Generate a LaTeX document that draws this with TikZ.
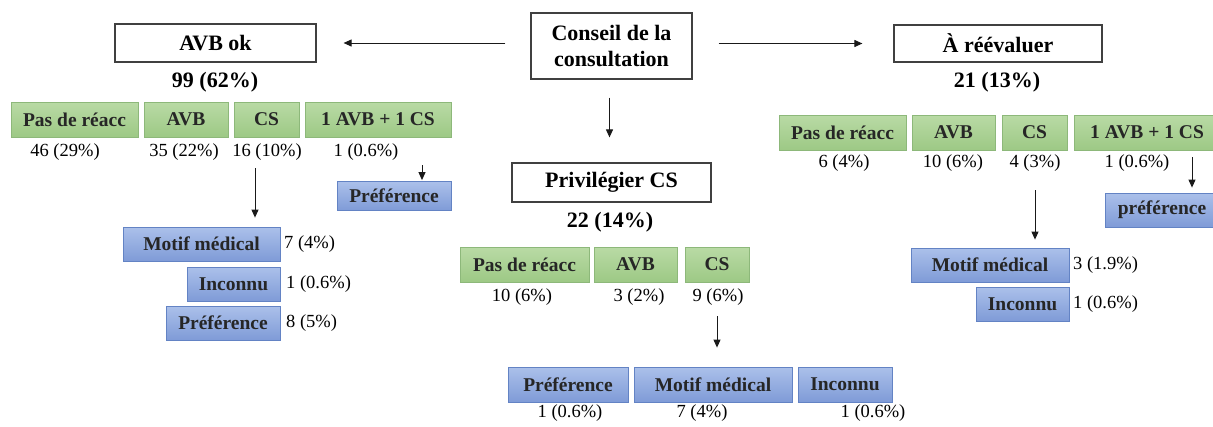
\documentclass[tikz,border=0pt]{standalone}
\usepackage{fontspec}
\setmainfont{Liberation Serif}
\usetikzlibrary{arrows.meta}
\definecolor{gtop}{HTML}{B9DAA5}
\definecolor{gbot}{HTML}{9DC985}
\definecolor{gline}{HTML}{8DB87A}
\definecolor{btop}{HTML}{ABC0EA}
\definecolor{bbot}{HTML}{7F9BD7}
\definecolor{bline}{HTML}{6383C4}
\definecolor{hline}{HTML}{404040}
\tikzset{
  headbox/.style={draw=hline, line width=1.2pt, fill=white, inner sep=0pt, align=center,
    font=\fontsize{22}{26}\selectfont\bfseries},
  total/.style={inner sep=0pt, font=\fontsize{22}{26}\selectfont\bfseries},
  greenbox/.style={draw=gline, line width=0.8pt, top color=gtop, bottom color=gbot, inner sep=0pt,
    minimum height=35pt, font=\fontsize{19.5}{22}\selectfont\bfseries, text=black!85},
  bluebox/.style={draw=bline, line width=0.8pt, top color=btop, bottom color=bbot, inner sep=0pt,
    minimum height=34pt, font=\fontsize{19.5}{22}\selectfont\bfseries, text=black!85},
  num/.style={inner sep=0pt, text height=13pt, text depth=4pt, font=\fontsize{18.5}{21}\selectfont},
  arr/.style={draw=black!90, line width=1pt, -{Triangle[length=8pt,width=7pt]}}
}
\begin{document}
\begin{tikzpicture}[x=1pt,y=-1pt]
\useasboundingbox (0,0) rectangle (1213,426);
% headers
\node[headbox, minimum width=161pt, minimum height=66pt] (cons) at (611.5,46) {Conseil de la\\consultation};
\node[headbox, minimum width=201pt, minimum height=38pt] (avbok) at (215.5,43) {AVB ok};
\node[headbox, minimum width=208pt, minimum height=37pt] (reev) at (998,43.5) {À réévaluer};
\node[headbox, minimum width=199pt, minimum height=39pt] (priv) at (611.5,182.5) {Privilégier CS};
% totals
\node[total] (t1) at (215,82) {99 (62\%)};
\node[total] (t2) at (997,82) {21 (13\%)};
\node[total] (t3) at (610,222) {22 (14\%)};
% left green row
\node[greenbox, minimum width=127pt] (gA1) at (74.5,119.5) {Pas de réacc};
\node[greenbox, minimum width=84pt] (gA2) at (186,119.5) {AVB};
\node[greenbox, minimum width=65pt] (gA3) at (266.5,119.5) {CS};
\node[greenbox, minimum width=146pt] (gA4) at (378,119.5) {1 AVB + 1 CS};
\node[num] (lA1) at (65,152) {46 (29\%)};
\node[num] (lA2) at (184,152) {35 (22\%)};
\node[num] (lA3) at (267,152) {16 (10\%)};
\node[num] (lA4) at (366,152) {1 (0.6\%)};
% left blue
\node[bluebox, minimum width=157pt] (bA1) at (201.5,244) {Motif médical};
\node[bluebox, minimum width=93pt] (bA2) at (233.5,284) {Inconnu};
\node[bluebox, minimum width=114pt] (bA3) at (223,323) {Préférence};
\node[bluebox, minimum width=114pt, minimum height=29pt] (bA4) at (394,196) {Préférence};
\node[num, anchor=west] (mA1) at (284,244) {7 (4\%)};
\node[num, anchor=west] (mA2) at (286,284) {1 (0.6\%)};
\node[num, anchor=west] (mA3) at (286,323) {8 (5\%)};
% middle green row
\node[greenbox, minimum width=129pt] (gB1) at (524.5,264.5) {Pas de réacc};
\node[greenbox, minimum width=83pt] (gB2) at (635.5,264.5) {AVB};
\node[greenbox, minimum width=64pt] (gB3) at (717,264.5) {CS};
\node[num] (lB1) at (522,297) {10 (6\%)};
\node[num] (lB2) at (639,297) {3 (2\%)};
\node[num] (lB3) at (718,297) {9 (6\%)};
% middle blue row
\node[bluebox, minimum width=120pt, minimum height=35pt] (bB1) at (568,384.5) {Préférence};
\node[bluebox, minimum width=158pt, minimum height=35pt] (bB2) at (713,384.5) {Motif médical};
\node[bluebox, minimum width=94pt, minimum height=35pt] (bB3) at (845,384.5) {Inconnu};
\node[num] (mB1) at (570,413) {1 (0.6\%)};
\node[num] (mB2) at (702,413) {7 (4\%)};
\node[num] (mB3) at (873,413) {1 (0.6\%)};
% right green row
\node[greenbox, minimum width=127pt] (gC1) at (842.5,132.5) {Pas de réacc};
\node[greenbox, minimum width=83pt] (gC2) at (953.5,132.5) {AVB};
\node[greenbox, minimum width=65pt] (gC3) at (1034.5,132.5) {CS};
\node[greenbox, minimum width=146pt] (gC4) at (1147,132.5) {1 AVB + 1 CS};
\node[num] (lC1) at (844,163) {6 (4\%)};
\node[num] (lC2) at (953,163) {10 (6\%)};
\node[num] (lC3) at (1035,163) {4 (3\%)};
\node[num] (lC4) at (1137,163) {1 (0.6\%)};
% right blue
\node[bluebox, minimum width=114pt] (bC1) at (1162,210) {préférence};
\node[bluebox, minimum width=158pt] (bC2) at (990,265) {Motif médical};
\node[bluebox, minimum width=93pt] (bC3) at (1022.5,304) {Inconnu};
\node[num, anchor=west] (mC2) at (1073,265) {3 (1.9\%)};
\node[num, anchor=west] (mC3) at (1073,304) {1 (0.6\%)};
% arrows
\draw[arr, shorten <=25pt, shorten >=27pt] (cons.west |- avbok.east) -- (avbok.east);
\draw[arr, shorten <=26pt, shorten >=31pt] (cons.east |- reev.west) -- (reev.west);
\draw[arr, shorten <=18pt, shorten >=25pt] ([xshift=-2pt]cons.south) -- ([xshift=-2pt]cons.south |- priv.north);
\draw[arr, shorten <=7.5pt, shorten >=9pt] ([xshift=-12pt]lA3.south) -- ([xshift=-12pt]lA3.south |- bA1.north);
\draw[arr, shorten <=28pt, shorten >=1pt] ([xshift=44pt]gA4.south) -- ([xshift=44pt]gA4.south |- bA4.north);
\draw[arr, shorten <=10.5pt, shorten >=19pt] ([xshift=-1pt]lB3.south) -- ([xshift=-1pt]lB3.south |- bB2.north);
\draw[arr, shorten <=18.5pt, shorten >=8pt] (lC3.south) -- (lC3.south |- bC2.north);
\draw[arr, shorten <=7pt, shorten >=5pt] ([xshift=45pt]gC4.south) -- ([xshift=45pt]gC4.south |- bC1.north);
\end{tikzpicture}
\end{document}
